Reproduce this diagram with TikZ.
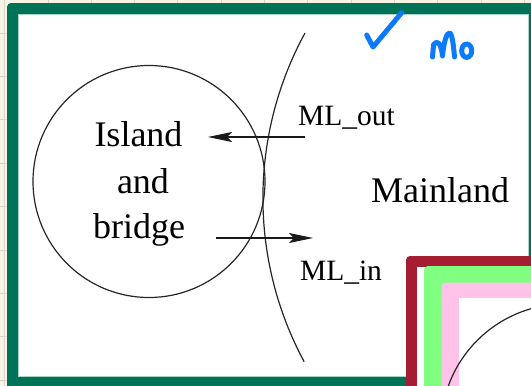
\documentclass[tikz,border=0pt]{standalone}
\usepackage{fontspec}
\setmainfont{Liberation Serif}
\usetikzlibrary{arrows.meta}

\definecolor{paper}{HTML}{F7F4E6}
\definecolor{gridline}{HTML}{D9D7CB}
\definecolor{framegreen}{HTML}{007356}
\definecolor{frameedge}{HTML}{A8D4C6}
\definecolor{winered}{HTML}{A51D32}
\definecolor{lightgreen}{HTML}{80FF80}
\definecolor{softpink}{HTML}{FFC2E8}
\definecolor{ink}{HTML}{0A7BFF}

\tikzset{
  outline/.style={line width=1.2pt, draw=black!85},
  flow/.style={line width=1.2pt, draw=black!90,
    -{Stealth[length=24pt, width=10pt, inset=5pt]}},
  bigtext/.style={font=\fontsize{36pt}{40pt}\selectfont, inner sep=0pt, anchor=base},
  smalltext/.style={font=\fontsize{29.5pt}{32pt}\selectfont, inner sep=0pt, anchor=base},
  pen/.style={line width=5pt, draw=ink, line cap=round, line join=round},
}

\begin{document}
\begin{tikzpicture}[x=1pt, y=-1pt]
  \clip (0,0) rectangle (531,386);
  % sheet background with its grid
  \fill[paper] (0,0) rectangle (531,386);
  \foreach \gx in {4.6,47.9,91.2,134.5,177.8,221.1,264.4,307.7,351,394.3,437.6,480.9,524.2}
    \draw[gridline, line width=0.8pt] (\gx,0) -- (\gx,386);
  \foreach \gy in {33,76.4,119.8,163.2,206.6,250,293.4,336.8,380.2}
    \draw[gridline, line width=0.8pt] (0,\gy) -- (531,\gy);

  % dark green slide frame
  \fill[framegreen, rounded corners=4pt] (7,3) rectangle (545,400);
  \fill[white] (18,14) rectangle (528,376);
  \draw[frameedge, line width=0.8pt] (18,376) -- (18,14) -- (528,14) -- (528,376) -- cycle;

  % island circle and its label
  \node[circle, outline, minimum size=232pt, inner sep=0pt] (island) at (149,181.5) {};
  \node[bigtext] (islandA) at (138.5,146) {Island};
  \node[bigtext] (islandB) at (143,193) {and};
  \node[bigtext] (islandC) at (139,238) {bridge};

  % mainland boundary
  \draw[outline] (305,33) arc[start angle=208.6, end angle=151.7, radius=345];
  \node[bigtext] (mainland) at (440,202.5) {Mainland};

  % flows across the boundary
  \coordinate (outStart) at (305,137);
  \coordinate (outEnd) at (208,137);
  \coordinate (inStart) at (216,238);
  \coordinate (inEnd) at (313,238);
  \draw[flow] (outStart) -- (outEnd);
  \draw[flow] (inStart) -- (inEnd);
  \node[smalltext] (mlout) at (346.5,125) {ML\_out};
  \node[smalltext] (mlin) at (341,280) {ML\_in};

  % handwritten check mark and note
  \draw[pen] (366.7,35) -- (373,47) -- (401.7,12.7);
  \draw[pen] (432.5,57) -- (433.5,45) .. controls (436,40) and (441,41) .. (442.5,56)
    .. controls (444,40) and (447,33) .. (449.5,33) .. controls (452,33) and (453.5,45) .. (454.5,57);
  \draw[pen] (466.7,50.7) ellipse[x radius=5, y radius=6.7];

  % nested frames of the next slide
  \fill[winered, rounded corners=4pt] (406,256) rectangle (600,450);
  \fill[white] (417,267) rectangle (600,450);
  \fill[lightgreen, rounded corners=4pt] (424,266) rectangle (600,450);
  \fill[softpink, rounded corners=4pt] (441.5,282.5) rectangle (600,450);
  \fill[white] (459,298) rectangle (600,450);
  \draw[outline] (565,428) circle[radius=124];
\end{tikzpicture}
\end{document}
